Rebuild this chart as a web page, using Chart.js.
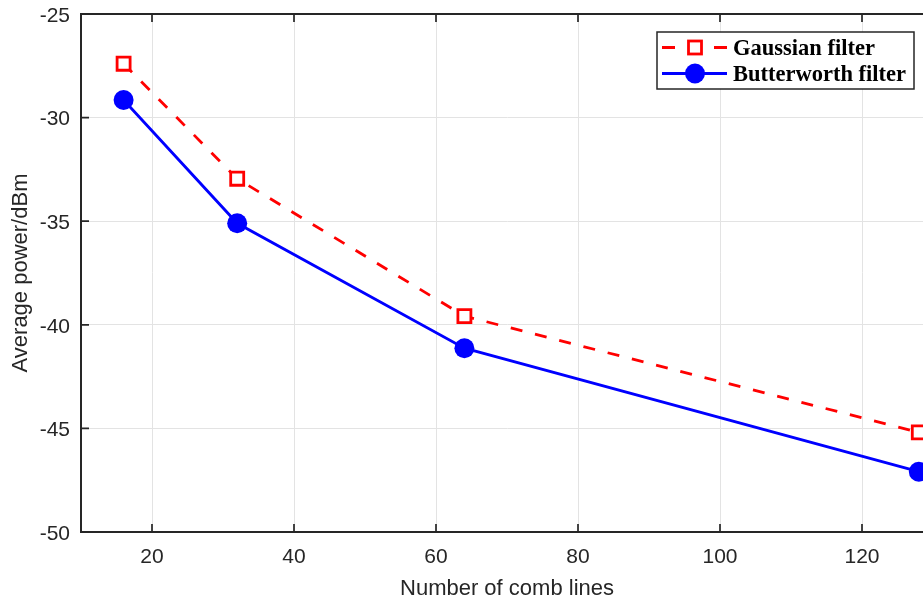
<!DOCTYPE html>
<html><head><meta charset="utf-8">
<script src="https://cdn.jsdelivr.net/npm/chart.js@4.4.1/dist/chart.umd.min.js"></script>
<style>html,body{margin:0;padding:0;overflow:hidden;background:#fff}#wrap{width:933px;height:604px;position:relative}</style>
</head><body><div id="wrap"><canvas id="c" width="933" height="604"></canvas></div>
<script>
const combLines = [16, 32, 64, 128];
const gaussianPower = [-27.40, -32.95, -39.58, -45.19];
const butterworthPower = [-29.15, -35.10, -41.13, -47.09];
const xTickValues = [20, 40, 60, 80, 100, 120];
const yTickValues = [-50, -45, -40, -35, -30, -25];
const seriesNames = ['Gaussian filter', 'Butterworth filter'];
const xTitle = 'Number of comb lines';
const yTitle = 'Average power/dBm';

const AX = '#262626';
const tickFont = {family: '"Liberation Sans", Arial, sans-serif', size: 21};
const titleFont = {family: '"Liberation Sans", Arial, sans-serif', size: 22};

function zeroPad(s) { s.paddingTop = 0; s.paddingBottom = 0; s.paddingLeft = 0; s.paddingRight = 0; }

const framePlugin = {
  id: 'frame',
  afterDraw(chart) {
    const {ctx, chartArea: a, scales} = chart;
    ctx.save();
    ctx.strokeStyle = AX;
    ctx.lineWidth = 2;
    ctx.beginPath();
    ctx.moveTo(a.left - 1, a.top); ctx.lineTo(a.right, a.top);
    ctx.moveTo(a.right, a.top); ctx.lineTo(a.right, a.bottom);
    ctx.stroke();
    ctx.lineWidth = 1.7;
    ctx.beginPath();
    const tl = 8;
    xTickValues.forEach(v => {
      const x = scales.x.getPixelForValue(v);
      ctx.moveTo(x, a.bottom); ctx.lineTo(x, a.bottom - tl);
      ctx.moveTo(x, a.top); ctx.lineTo(x, a.top + tl);
    });
    yTickValues.forEach(v => {
      const y = scales.y.getPixelForValue(v);
      ctx.moveTo(a.left, y); ctx.lineTo(a.left + tl, y);
      ctx.moveTo(a.right, y); ctx.lineTo(a.right - tl, y);
    });
    ctx.stroke();

    // legend
    const bw = 257, bh = 57;
    const bx = a.right - 19 - bw, by = a.top + 18;
    ctx.fillStyle = '#fff';
    ctx.fillRect(bx, by, bw, bh);
    ctx.lineWidth = 1.5;
    ctx.strokeStyle = AX;
    ctx.strokeRect(bx, by, bw, bh);
    const ds = chart.data.datasets;
    const sx0 = bx + 5, sx1 = bx + 70, mx = bx + 38, txt = bx + 76;
    const r1 = by + 15.5, r2 = by + 41.5;
    // row 1
    ctx.strokeStyle = ds[0].borderColor;
    ctx.lineWidth = ds[0].borderWidth;
    ctx.beginPath();
    ctx.moveTo(sx0, r1); ctx.lineTo(sx0 + 13, r1);
    ctx.moveTo(sx1 - 13, r1); ctx.lineTo(sx1, r1);
    ctx.stroke();
    ctx.lineWidth = ds[0].pointBorderWidth;
    ctx.fillStyle = '#fff';
    const h = 6.5;
    ctx.fillRect(mx - h, r1 - h, 2 * h, 2 * h);
    ctx.strokeRect(mx - h, r1 - h, 2 * h, 2 * h);
    // row 2
    ctx.strokeStyle = ds[1].borderColor;
    ctx.lineWidth = ds[1].borderWidth;
    ctx.beginPath();
    ctx.moveTo(sx0, r2); ctx.lineTo(sx1, r2);
    ctx.stroke();
    ctx.fillStyle = ds[1].pointBackgroundColor;
    ctx.beginPath();
    ctx.arc(mx, r2, ds[1].pointRadius, 0, Math.PI * 2);
    ctx.fill();
    ctx.fillStyle = '#000';
    ctx.font = 'bold 22.5px "Liberation Serif", "Times New Roman", serif';
    ctx.textBaseline = 'alphabetic';
    ctx.textAlign = 'left';
    ctx.fillText(ds[0].label, txt, r1 + 7);
    ctx.fillText(ds[1].label, txt, r2 + 7);
    ctx.restore();
  }
};

new Chart(document.getElementById('c'), {
  type: 'line',
  data: {
    datasets: [
      {
        label: seriesNames[0],
        data: combLines.map((x, i) => ({x, y: gaussianPower[i]})),
        borderColor: '#ff0000',
        borderWidth: 2.8,
        borderDash: [12, 13],
        pointStyle: 'rect',
        pointRadius: 9.2,
        pointBorderWidth: 2.8,
        pointBorderColor: '#ff0000',
        pointBackgroundColor: '#ffffff',
        tension: 0,
        fill: false
      },
      {
        label: seriesNames[1],
        data: combLines.map((x, i) => ({x, y: butterworthPower[i]})),
        borderColor: '#0000ff',
        borderWidth: 2.8,
        pointStyle: 'circle',
        pointRadius: 10,
        pointBorderWidth: 0,
        pointBackgroundColor: '#0000ff',
        pointBorderColor: '#0000ff',
        tension: 0,
        fill: false
      }
    ]
  },
  options: {
    responsive: false,
    animation: false,
    devicePixelRatio: 1,
    layout: {autoPadding: false, padding: {top: 14, right: 0, left: 0, bottom: 0}},
    plugins: {legend: {display: false}, tooltip: {enabled: false}},
    scales: {
      x: {
        type: 'linear',
        min: 10, max: 130,
        afterBuildTicks: s => { s.ticks = xTickValues.map(v => ({value: v})); },
        afterFit: s => { s.height = 72; zeroPad(s); },
        grid: {color: '#e3e3e3', lineWidth: 1, drawTicks: false},
        border: {display: true, color: AX, width: 2},
        ticks: {color: AX, font: tickFont, padding: 13, maxRotation: 0, autoSkip: false},
        title: {display: true, text: xTitle, color: AX, font: titleFont, padding: {top: 0, bottom: 2}}
      },
      y: {
        type: 'linear',
        min: -50, max: -25,
        afterBuildTicks: s => { s.ticks = yTickValues.map(v => ({value: v})); },
        afterFit: s => { s.width = 81; zeroPad(s); },
        grid: {color: '#e3e3e3', lineWidth: 1, drawTicks: false},
        border: {display: true, color: AX, width: 2},
        ticks: {color: AX, font: tickFont, padding: 11, labelOffset: 2, autoSkip: false},
        title: {display: true, text: yTitle, color: AX, font: titleFont, padding: {top: 8, bottom: 0}}
      }
    }
  },
  plugins: [framePlugin]
});
</script>
</body></html>
